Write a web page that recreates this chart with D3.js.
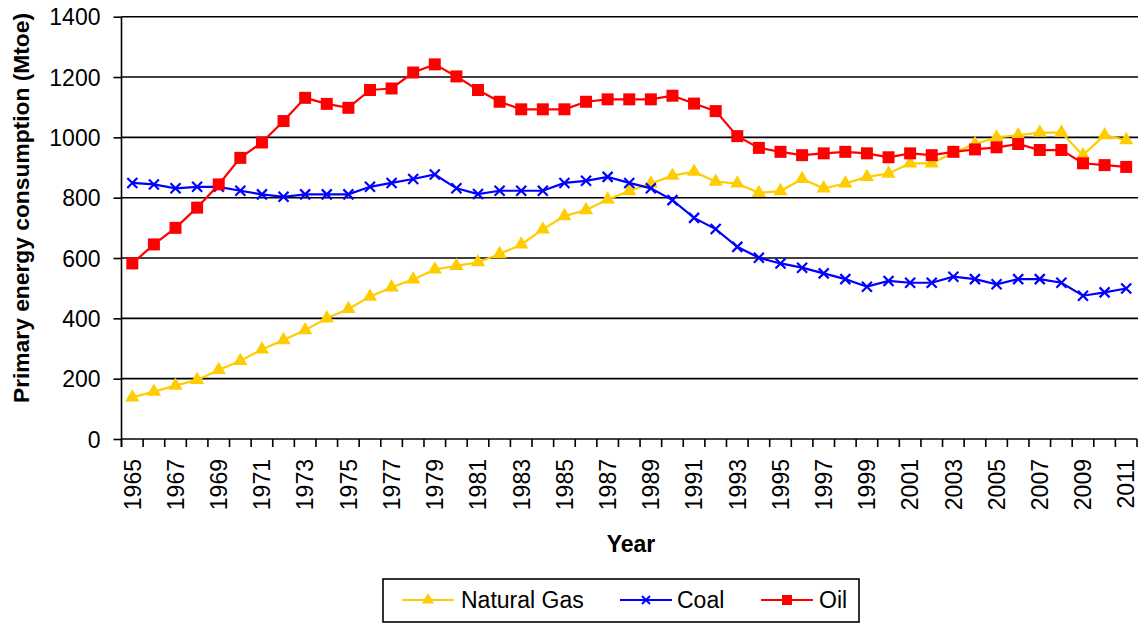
<!DOCTYPE html>
<html><head><meta charset="utf-8">
<script src="https://cdn.jsdelivr.net/npm/d3@7"></script>
<style>
html,body{margin:0;padding:0;background:#fff;}
svg{display:block;font-family:"Liberation Sans",Arial,sans-serif;}
</style></head>
<body>
<svg id="chart" width="1138" height="623"></svg>
<script>
const years = d3.range(1965, 2012);
const naturalGas = [138,157,177,196,229,259,297,328,361,400,431,472,503,529,562,574,586,613,645,695,739,759,794,822,847,873,886,853,847,816,822,862,831,847,869,880,914,914,949,978,1000,1007,1016,1016,941,1007,991];
const coal = [849,844,831,836,836,823,811,803,811,811,811,836,849,862,877,831,812,823,823,823,849,856,869,849,831,792,733,696,637,601,582,568,549,530,505,524,518,518,538,530,513,530,530,518,475,486,499];
const oil = [582,645,700,767,844,932,983,1054,1131,1111,1098,1157,1162,1215,1242,1202,1157,1118,1093,1093,1093,1118,1126,1126,1126,1138,1112,1087,1004,965,952,941,947,952,947,934,947,941,952,960,967,978,958,958,914,908,902];
const yTicks = [0,200,400,600,800,1000,1200,1400];
const seriesNames = ["Natural Gas","Coal","Oil"];
const seriesColors = ["#FFCC00","#0000FF","#FF0000"];

(function(){
const svg = d3.select("#chart");
const pL = 121.5, pR = 1137, pT = 16.7, pB = 439;
const x = d3.scaleBand().domain(years).range([pL, pR]);
const y = d3.scaleLinear().domain([0,1400]).range([pB, pT]);
const cx = d => x(d) + x.bandwidth()/2;

// gridlines
svg.append("g").selectAll("line").data(yTicks.filter(t=>t>0)).join("line")
  .attr("x1", pL).attr("x2", 1138).attr("y1", d=>y(d)).attr("y2", d=>y(d))
  .attr("stroke","#000").attr("stroke-width",1.6);

// y axis
const yAxis = svg.append("g").attr("transform",`translate(${pL},0)`)
  .call(d3.axisLeft(y).tickValues(yTicks).tickSize(8).tickPadding(13).tickFormat(d3.format("d")));
yAxis.select(".domain").attr("stroke","#000").attr("stroke-width",1.6).attr("d",`M0,${pT}V${pB+8}`);
yAxis.selectAll(".tick line").attr("stroke","#000").attr("stroke-width",1.6);
yAxis.selectAll("text").attr("font-size",23).attr("fill","#000").attr("font-family","Liberation Sans, Arial").attr("dy","0.35em");

// x axis
const xa = svg.append("g");
xa.append("line").attr("x1",pL).attr("x2",pR).attr("y1",pB).attr("y2",pB).attr("stroke","#000").attr("stroke-width",1.6);
const bounds = years.map(d=>x(d)).concat([pR]);
xa.selectAll("line.tk").data(bounds).join("line").attr("class","tk")
  .attr("x1",d=>d).attr("x2",d=>d).attr("y1",pB).attr("y2",pB+8)
  .attr("stroke","#000").attr("stroke-width",1.6);
xa.selectAll("text").data(years.filter((d,i)=>i%2===0)).join("text")
  .attr("transform",d=>`translate(${cx(d)+8.3},${pB+20}) rotate(-90)`)
  .attr("text-anchor","end").attr("font-size",23).attr("fill","#000")
  .text(d=>d);

// axis titles
svg.append("text").attr("x",631).attr("y",552).attr("text-anchor","middle")
  .attr("font-size",23).attr("font-weight","bold").text("Year");
svg.append("text").attr("transform","translate(28.5,208) rotate(-90)").attr("text-anchor","middle")
  .attr("font-size",22.8).attr("font-weight","bold").text("Primary energy consumption (Mtoe)");

// series
const data = [naturalGas, coal, oil];
const line = d3.line().x((d,i)=>cx(years[i])).y(d=>y(d));
const triPath = d3.symbol().type(d3.symbolTriangle).size(88)();
const triSmall = d3.symbol().type(d3.symbolTriangle).size(62)();
const sqPath = d3.symbol().type(d3.symbolSquare).size(144)();
const sqSmall = d3.symbol().type(d3.symbolSquare).size(100)();
const xPath = "M-5,-5L5,5M-5,5L5,-5";
const xSmall = "M-4,-4L4,4M-4,4L4,-4";
data.forEach((vals, si) => {
  const g = svg.append("g");
  g.append("path").datum(vals).attr("d", line).attr("fill","none")
    .attr("stroke", seriesColors[si]).attr("stroke-width",2.2);
  const m = g.selectAll("path.m").data(vals).join("path").attr("class","m")
    .attr("transform",(d,i)=>`translate(${cx(years[i])},${y(d)})`);
  if (si===0) m.attr("d",triPath).attr("fill",seriesColors[si]);
  if (si===1) m.attr("d",xPath).attr("fill","none").attr("stroke",seriesColors[si]).attr("stroke-width",2.2);
  if (si===2) m.attr("d",sqPath).attr("fill",seriesColors[si]);
});

// legend
const lg = svg.append("g");
lg.append("rect").attr("x",383).attr("y",579).attr("width",476).attr("height",43)
  .attr("fill","#fff").attr("stroke","#000").attr("stroke-width",1.6);
const legendX = [402, 620, 761];
const textX = [461, 677, 819];
seriesNames.forEach((name, i) => {
  const ly = 600;
  lg.append("line").attr("x1",legendX[i]).attr("x2",legendX[i]+52).attr("y1",ly).attr("y2",ly)
    .attr("stroke",seriesColors[i]).attr("stroke-width",2.2);
  const mk = lg.append("path").attr("transform",`translate(${legendX[i]+26},${ly})`);
  if (i===0) mk.attr("d",triSmall).attr("fill",seriesColors[i]);
  if (i===1) mk.attr("d",xSmall).attr("fill","none").attr("stroke",seriesColors[i]).attr("stroke-width",2);
  if (i===2) mk.attr("d",sqSmall).attr("fill",seriesColors[i]);
  lg.append("text").attr("x",textX[i]).attr("y",ly+8.3).attr("font-size",23).attr("fill","#000").text(name);
});
})();
</script>
</body></html>
